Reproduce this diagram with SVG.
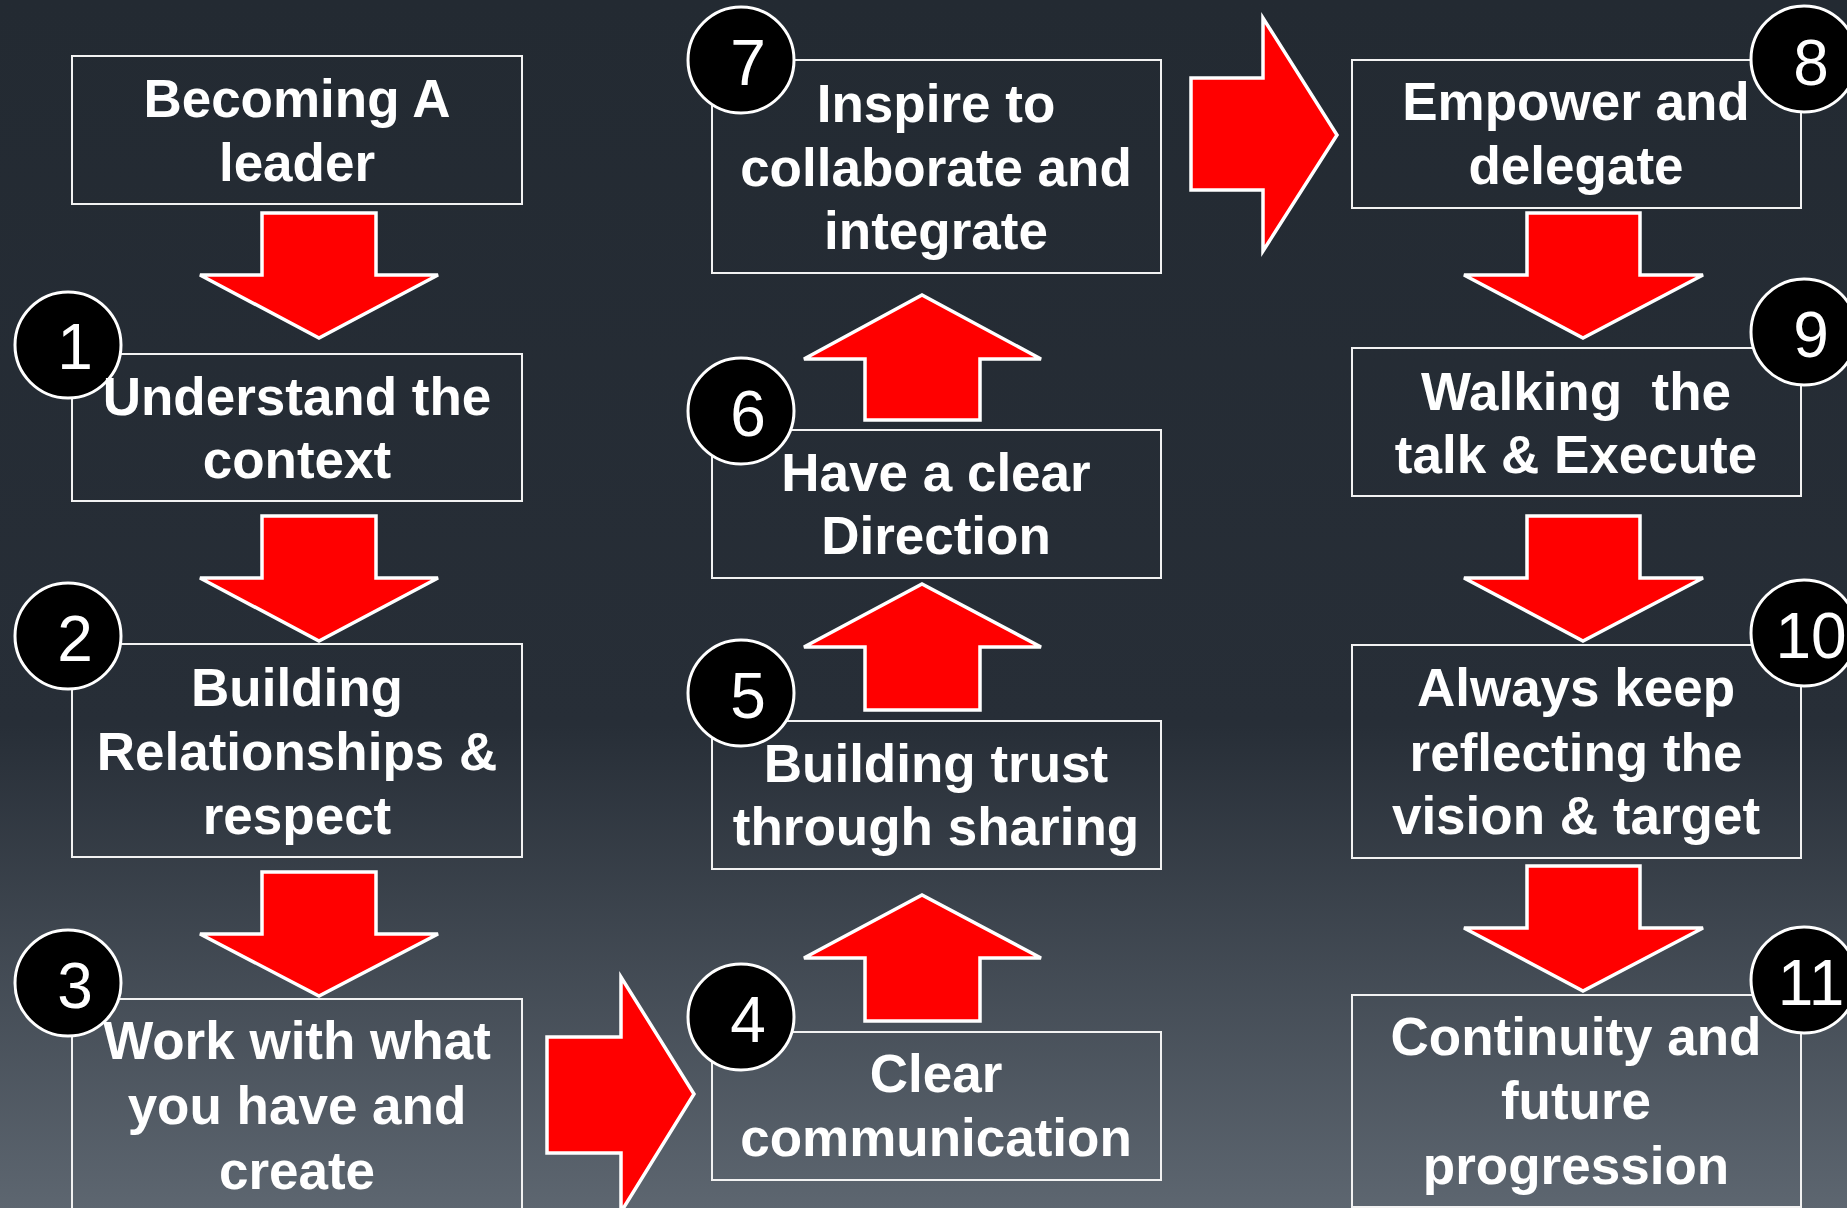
<svg xmlns="http://www.w3.org/2000/svg" width="1847" height="1208" viewBox="0 0 1847 1208">
<defs>
<linearGradient id="bg" x1="0" y1="0" x2="0" y2="1">
<stop offset="0" stop-color="#232a32"/>
<stop offset="0.6" stop-color="#272e37"/>
<stop offset="1" stop-color="#5d6670"/>
</linearGradient>
<style>
.box{fill:none;stroke:#f2f2f2;stroke-width:2}
.arrow{fill:#ff0000;stroke:#ffffff;stroke-width:3.5;stroke-linejoin:miter}
.num{fill:#000000;stroke:#ffffff;stroke-width:3}
.lbl{font-family:"Liberation Sans",Arial,sans-serif;font-weight:bold;font-size:53px;fill:#ffffff;text-anchor:middle}
.n{font-family:"Liberation Sans",Arial,sans-serif;font-size:64px;fill:#ffffff;text-anchor:middle}
</style>
</defs>
<rect x="0" y="0" width="1847" height="1208" fill="url(#bg)"/>

<g id="connectors">
<polygon class="arrow" points="262,213 376,213 376,275 438,275 319,338 200,275 262,275"/>
<polygon class="arrow" points="262,516 376,516 376,578 438,578 319,641 200,578 262,578"/>
<polygon class="arrow" points="262,872 376,872 376,934 438,934 319,996 200,934 262,934"/>
<polygon class="arrow" points="547,1037 621,1037 621,977 694,1094 621,1212 621,1153 547,1153"/>
<polygon class="arrow" points="865,1021 980,1021 980,958 1041,958 922,895 804,958 865,958"/>
<polygon class="arrow" points="865,710 980,710 980,647 1041,647 922,584 804,647 865,647"/>
<polygon class="arrow" points="865,420 980,420 980,359 1041,359 922,295 804,359 865,359"/>
<polygon class="arrow" points="1191,78 1263,78 1263,18 1337,135 1263,251 1263,190 1191,190"/>
<polygon class="arrow" points="1527,213 1640,213 1640,275 1703,275 1583,338 1464,275 1527,275"/>
<polygon class="arrow" points="1527,516 1640,516 1640,578 1703,578 1583,641 1464,578 1527,578"/>
<polygon class="arrow" points="1527,866 1640,866 1640,928 1703,928 1583,991 1464,928 1527,928"/>
</g>

<g id="node-0">
<rect class="box" x="72" y="56" width="450" height="148"/>
<text class="lbl" x="297" y="117">Becoming A</text>
<text class="lbl" x="297" y="181">leader</text>
</g>

<g id="node-1">
<rect class="box" x="72" y="354" width="450" height="147"/>
<circle class="num" cx="68" cy="345" r="53"/>
<text class="n" x="75" y="369">1</text>
<text class="lbl" x="297" y="415">Understand the</text>
<text class="lbl" x="297" y="478">context</text>
</g>

<g id="node-2">
<rect class="box" x="72" y="644" width="450" height="213"/>
<circle class="num" cx="68" cy="636" r="53"/>
<text class="n" x="75" y="661">2</text>
<text class="lbl" x="297" y="706">Building</text>
<text class="lbl" x="297" y="770">Relationships &amp;</text>
<text class="lbl" x="297" y="834">respect</text>
</g>

<g id="node-3">
<rect class="box" x="72" y="999" width="450" height="216"/>
<circle class="num" cx="68" cy="983" r="53"/>
<text class="n" x="75" y="1008">3</text>
<text class="lbl" x="297" y="1059">Work with what</text>
<text class="lbl" x="297" y="1124">you have and</text>
<text class="lbl" x="297" y="1189">create</text>
</g>

<g id="node-4">
<rect class="box" x="712" y="1032" width="449" height="148"/>
<circle class="num" cx="741" cy="1017" r="53"/>
<text class="n" x="748" y="1042">4</text>
<text class="lbl" x="936" y="1092">Clear</text>
<text class="lbl" x="936" y="1156">communication</text>
</g>

<g id="node-5">
<rect class="box" x="712" y="721" width="449" height="148"/>
<circle class="num" cx="741" cy="693" r="53"/>
<text class="n" x="748" y="718">5</text>
<text class="lbl" x="936" y="782">Building trust</text>
<text class="lbl" x="936" y="845">through sharing</text>
</g>

<g id="node-6">
<rect class="box" x="712" y="430" width="449" height="148"/>
<circle class="num" cx="741" cy="411" r="53"/>
<text class="n" x="748" y="436">6</text>
<text class="lbl" x="936" y="491">Have a clear</text>
<text class="lbl" x="936" y="554">Direction</text>
</g>

<g id="node-7">
<rect class="box" x="712" y="60" width="449" height="213"/>
<circle class="num" cx="741" cy="60" r="53"/>
<text class="n" x="748" y="85">7</text>
<text class="lbl" x="936" y="122">Inspire to</text>
<text class="lbl" x="936" y="186">collaborate and</text>
<text class="lbl" x="936" y="249">integrate</text>
</g>

<g id="node-8">
<rect class="box" x="1352" y="60" width="449" height="148"/>
<circle class="num" cx="1804" cy="59" r="53"/>
<text class="n" x="1811" y="85">8</text>
<text class="lbl" x="1576" y="120">Empower and</text>
<text class="lbl" x="1576" y="184">delegate</text>
</g>

<g id="node-9">
<rect class="box" x="1352" y="348" width="449" height="148"/>
<circle class="num" cx="1804" cy="332" r="53"/>
<text class="n" x="1811" y="357">9</text>
<text class="lbl" x="1576" y="410" style="white-space:pre">Walking  the</text>
<text class="lbl" x="1576" y="473">talk &amp; Execute</text>
</g>

<g id="node-10">
<rect class="box" x="1352" y="645" width="449" height="213"/>
<circle class="num" cx="1804" cy="633" r="53"/>
<text class="n" x="1811" y="658">10</text>
<text class="lbl" x="1576" y="706">Always keep</text>
<text class="lbl" x="1576" y="771">reflecting the</text>
<text class="lbl" x="1576" y="834">vision &amp; target</text>
</g>

<g id="node-11">
<rect class="box" x="1352" y="995" width="449" height="212"/>
<circle class="num" cx="1804" cy="980" r="53"/>
<text class="n" x="1811" y="1005">11</text>
<text class="lbl" x="1576" y="1055">Continuity and</text>
<text class="lbl" x="1576" y="1119">future</text>
<text class="lbl" x="1576" y="1184">progression</text>
</g>
</svg>
